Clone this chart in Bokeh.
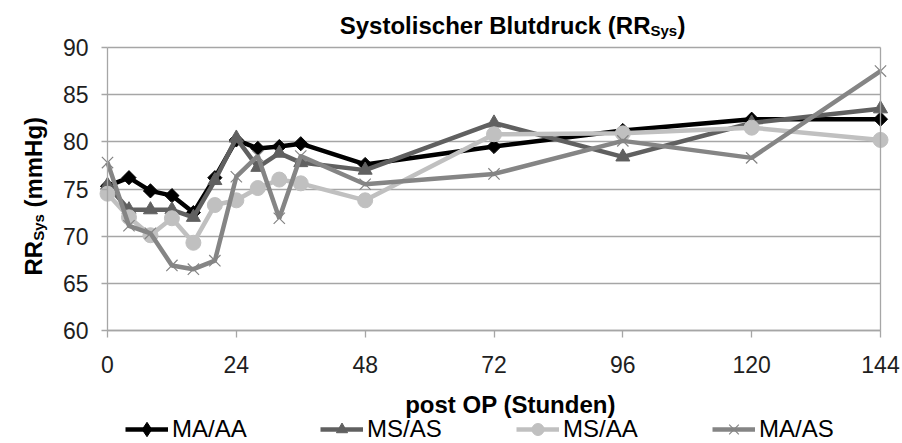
import math
from bokeh.plotting import figure
from bokeh.models import Range1d, FixedTicker, Label, Legend, LegendItem, LinearAxis
from bokeh.embed import file_html
from bokeh.resources import INLINE

# ---------------- data ----------------
hours = [0, 4, 8, 12, 16, 20, 24, 28, 32, 36, 48, 72, 96, 120, 144]
ma_aa = [75.3, 76.2, 74.8, 74.3, 72.5, 76.2, 80.2, 79.3, 79.5, 79.8, 77.6, 79.5, 81.2, 82.4, 82.4]
ms_as = [75.4, 72.8, 72.8, 72.8, 72.0, 75.9, 80.4, 77.3, 78.8, 77.8, 77.0, 82.0, 78.4, 82.0, 83.5]
ms_aa = [74.5, 72.0, 70.1, 71.9, 69.3, 73.3, 73.8, 75.1, 76.0, 75.6, 73.8, 80.8, 80.9, 81.5, 80.2]
ma_as = [77.8, 71.1, 70.3, 66.9, 66.5, 67.4, 76.3, 78.5, 71.9, 78.5, 75.5, 76.6, 80.1, 78.3, 87.5]
series_names = ["MA/AA", "MS/AS", "MS/AA", "MA/AS"]
x_ticks = [0, 24, 48, 72, 96, 120, 144]
y_ticks = [60, 65, 70, 75, 80, 85, 90]

# ---------------- layout (frame = whole canvas) ----------------
W, H = 902, 443
AX0, AX1 = 107, 880      # page x of hour 0 and hour 144
AY90, AY60 = 47, 330     # page y of 90 and 60 mmHg
k = (AX1 - AX0) / 144.0
ky = (AY60 - AY90) / 30.0
xs, xe = -AX0 / k, 144 + (W - AX1) / k
ye, ys = 90 + AY90 / ky, 60 - (H - AY60) / ky


def dx(px):
    return (px - AX0) / k


def dy(py):
    return 60 + (AY60 - py) / ky


FONT = "Liberation Sans"
GRID = "#a6a6a6"

p = figure(width=W, height=H, x_range=Range1d(xs, xe), y_range=Range1d(ys, ye),
           output_backend="svg", toolbar_location=None,
           min_border_left=0, min_border_right=0, min_border_top=0, min_border_bottom=0)
p.outline_line_color = None

p.xgrid.visible = False
p.ygrid.ticker = FixedTicker(ticks=y_ticks)
p.ygrid.bounds = (60, 90)
p.ygrid.cross_bounds = (0, 144)
p.ygrid.grid_line_color = GRID
p.ygrid.grid_line_width = 1.3

p.xaxis.ticker = FixedTicker(ticks=x_ticks)
p.xaxis.bounds = (0, 144)
p.xaxis.fixed_location = 60
p.yaxis.ticker = FixedTicker(ticks=y_ticks)
p.yaxis.bounds = (60, 90)
p.yaxis.fixed_location = 0
for ax in (p.xaxis, p.yaxis):
    ax.axis_line_color = GRID
    ax.axis_line_width = 1.3
    ax.major_tick_line_color = GRID
    ax.major_tick_line_width = 1.3
    ax.minor_tick_line_color = None
    ax.major_tick_in = 0
    ax.major_label_text_font = FONT
    ax.major_label_text_font_size = "23px"
    ax.major_label_text_color = "#1e1e1e"
p.xaxis.major_tick_out = 7
p.yaxis.major_tick_out = 6
p.yaxis.major_label_standoff = 13
p.xaxis.major_label_standoff = 18

# right border of the plot area
rax = LinearAxis(fixed_location=144, bounds=(60, 90), ticker=FixedTicker(ticks=[]),
                 major_label_text_font_size="0px", axis_line_color=GRID, axis_line_width=1.3,
                 major_tick_line_color=None, minor_tick_line_color=None)
p.add_layout(rax, "right")

# ---------------- series ----------------
styles = [
    dict(color="#000000", marker="square", size=10, angle=math.pi / 4, lw=1),
    dict(color="#606060", marker="triangle", size=14, angle=0, lw=1),
    dict(color="#c0c0c0", marker="circle", size=15, angle=0, lw=1),
    dict(color="#858585", marker="x", size=16, angle=0, lw=1.2),
]
values = [ma_aa, ms_as, ms_aa, ma_as]
renderers = []
for vals, st in zip(values, styles):
    lr = p.line(hours, vals, line_color=st["color"], line_width=4.5)
    sr = p.scatter(hours, vals, marker=st["marker"], size=st["size"], angle=st["angle"],
                   fill_color=st["color"], line_color=st["color"], line_width=st["lw"])
    renderers.append([lr, sr])

# legend symbol for the diamond series (drawn only in the legend)
leg_diamond = p.scatter(hours, ma_aa, marker="diamond", size=14, fill_color="#000000",
                        line_color="#000000", visible=False)
renderers[0] = [renderers[0][0], leg_diamond]

# ---------------- legend ----------------
leg_x = [125, 320, 516, 712]
leg_gh = [36, 28, 30, 34]
LEG_CY = 429
for name, rends, lx, gh in zip(series_names, renderers, leg_x, leg_gh):
    lg = Legend(items=[LegendItem(label=name, renderers=rends)],
                location=(lx, H - (LEG_CY + gh / 2)), orientation="horizontal",
                border_line_color=None, background_fill_alpha=0, padding=0, margin=0,
                inactive_fill_alpha=0,
                glyph_width=43, glyph_height=gh, label_height=24, label_standoff=4,
                label_text_font=FONT, label_text_font_size="24px", label_text_color="black")
    p.add_layout(lg)

# ---------------- texts ----------------
tkw = dict(text_font=FONT, text_font_style="bold", text_color="black", text_baseline="alphabetic")
p.add_layout(Label(x=dx(650), y=dy(25), text="Systolischer Blutdruck (RR", text_align="right",
                   text_font_size="24px", **tkw))
p.add_layout(Label(x=dx(650), y=dy(30), text="Sys", text_align="left", text_font_size="15px", **tkw))
p.add_layout(Label(x=dx(677), y=dy(25), text=")", text_align="left", text_font_size="24px", **tkw))

p.add_layout(Label(x=dx(510), y=dy(404), text="post OP (Stunden)", text_align="center",
                   text_font_size="24px", **tkw))

ykw = dict(tkw, angle=math.pi / 2, text_align="left")
p.add_layout(Label(x=dx(33), y=dy(275), text="RR", text_font_size="24px", **ykw))
p.add_layout(Label(x=dx(38), y=dy(275 - 34.7), text="Sys", text_font_size="15px", **ykw))
p.add_layout(Label(x=dx(33), y=dy(275 - 34.7 - 26.7 - 6.5), text="(mmHg)", text_font_size="24px", **ykw))

open("out.html", "w").write(file_html(p, INLINE))
